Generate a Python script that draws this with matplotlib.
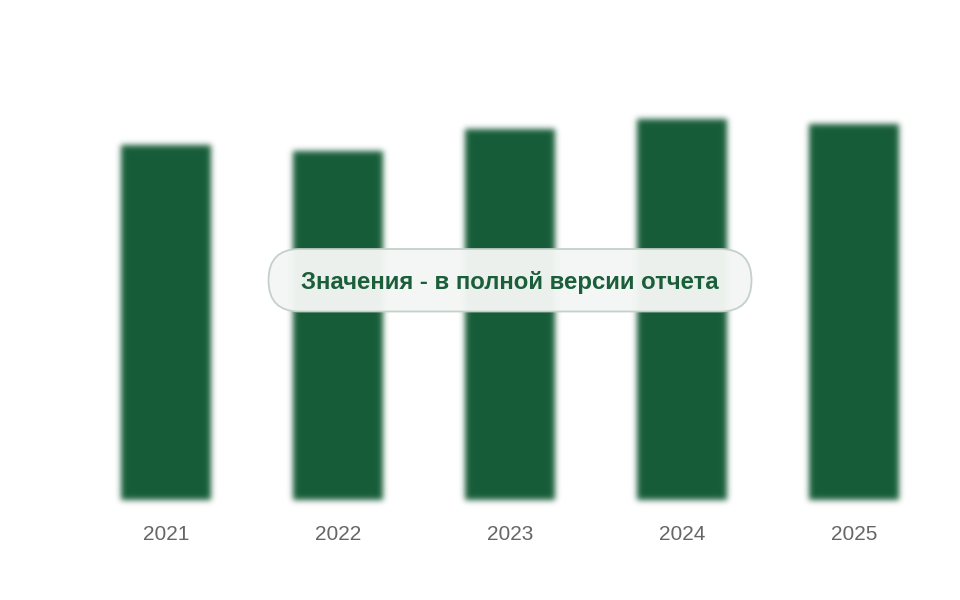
import numpy as np
import matplotlib
matplotlib.use("Agg")
import matplotlib.pyplot as plt
from matplotlib.patches import FancyBboxPatch
from matplotlib.colors import to_rgb

years = ["2021", "2022", "2023", "2024", "2025"]
values = [316, 310, 330, 339, 334]

BAR_COLOR = "#165c38"


def gauss_kernel(sigma):
    r = int(3 * sigma)
    x = np.arange(-r, r + 1)
    k = np.exp(-x ** 2 / (2 * sigma ** 2))
    return k / k.sum(), r


def blur_filter(sigma, color):
    k, r = gauss_kernel(sigma)
    rgb = np.array(to_rgb(color))

    def f(im, dpi):
        pad = r
        h, w, c = im.shape
        a = np.zeros((h + 2 * pad, w + 2 * pad), dtype=float)
        a[pad:pad + h, pad:pad + w] = im[..., 3]
        a = np.apply_along_axis(lambda m: np.convolve(m, k, mode="same"), 0, a)
        a = np.apply_along_axis(lambda m: np.convolve(m, k, mode="same"), 1, a)
        out = np.empty((h + 2 * pad, w + 2 * pad, 4), dtype=float)
        out[..., :3] = rgb
        out[..., 3] = a
        return out, -pad, -pad
    return f


fig = plt.figure(figsize=(9.6, 6.0), dpi=100)
ax = fig.add_axes([80 / 960, 100 / 600, 860 / 960, 440 / 600])
x = np.arange(len(years))
bars = ax.bar(x, values, width=0.52, color=BAR_COLOR, zorder=2)
for b in bars:
    b.set_agg_filter(blur_filter(3.0, BAR_COLOR))
    b.set_rasterized(True)

ax.set_xlim(-0.5, len(years) - 0.5)
ax.set_ylim(0, 440 / 1.125)
ax.set_xticks(x)
ax.set_xticklabels(years, fontsize=15, color="#666666", fontfamily="Liberation Sans")
ax.tick_params(axis="x", length=0, pad=18)
ax.set_yticks([])
for s in ax.spines.values():
    s.set_visible(False)

# overlay pill label (inch coordinates, 100 px per inch)
box = FancyBboxPatch((2.685, 2.885), 4.83, 0.625,
                     boxstyle="round,pad=0,rounding_size=0.31",
                     transform=fig.dpi_scale_trans, facecolor="#f3f6f4", alpha=0.97,
                     edgecolor="#c3cfc8", linewidth=1.3)
fig.patches.append(box)
fig.text(510 / 960, 1 - 283 / 600, "Значения - в полной версии отчета",
         ha="center", va="center", fontsize=17.3, fontweight="bold",
         color="#1a5e3a", fontfamily="Liberation Sans")

fig.savefig("out.png", dpi=100)
